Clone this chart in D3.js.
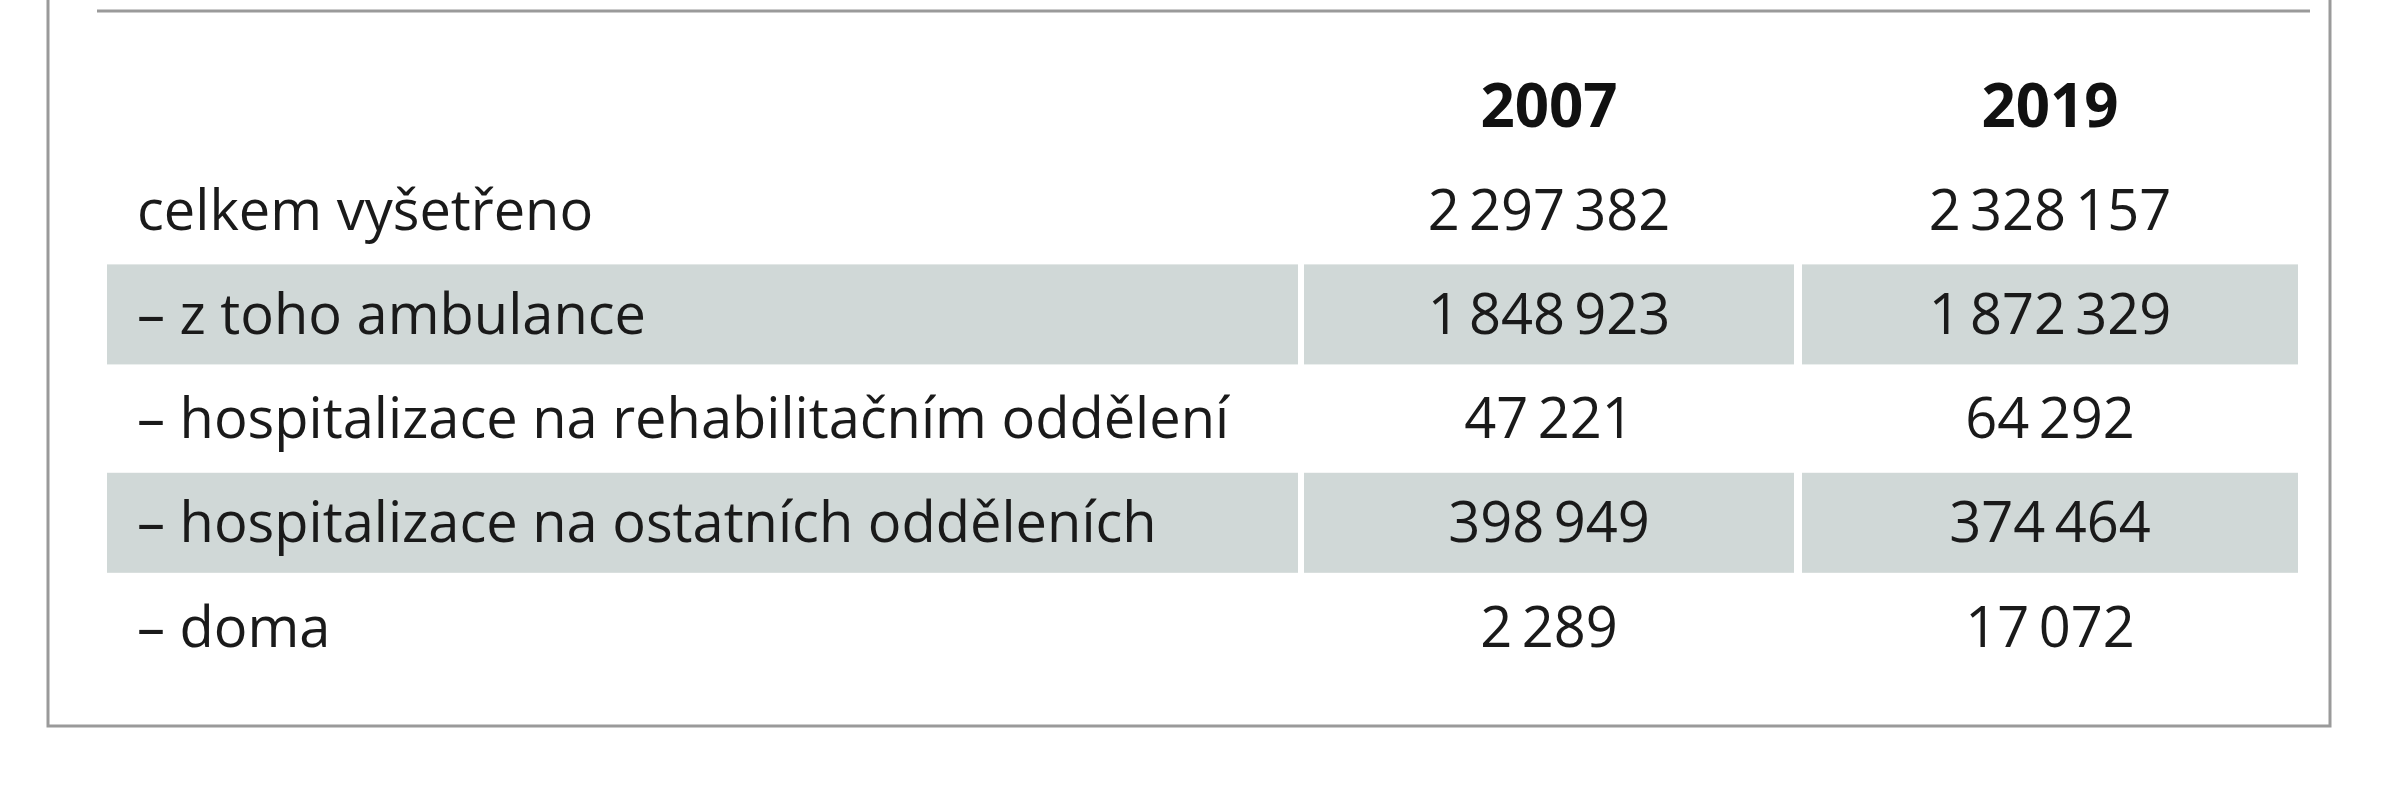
<!DOCTYPE html><html><head><meta charset="utf-8">
<script src="https://cdn.jsdelivr.net/npm/d3@7"></script>
<style>body{margin:0;background:#fff}</style></head><body>
<svg id="c" width="2394" height="800"></svg>
<script>
const years = ["2007", "2019"];
const rowLabels = ["celkem vyšetřeno", "– z toho ambulance", "– hospitalizace na rehabilitačním oddělení", "– hospitalizace na ostatních odděleních", "– doma"];
const values2007 = [2297382, 1848923, 47221, 398949, 2289];
const values2019 = [2328157, 1872329, 64292, 374464, 17072];
const shaded = [false, true, false, true, false];

const svg = d3.select("#c");
const font = "'Open Sans', sans-serif";
svg.append("path").attr("d","M48,0 V726 H2330 V0").attr("fill","none").attr("stroke","#9a9a9a").attr("stroke-width",3);
svg.append("line").attr("x1",97).attr("x2",2310).attr("y1",11).attr("y2",11).attr("stroke","#9a9a9a").attr("stroke-width",3);

const y = d3.scaleBand().domain(["h"].concat(d3.range(rowLabels.length))).range([56, 677]).paddingInner(0.04);
const cols = [{x0:107,x1:1298},{x0:1304,x1:1794},{x0:1802,x1:2298}];
const fmt = v => d3.format(",")(v).replace(/,/g, "\u2009");
const series = [values2007, values2019];

rowLabels.forEach((lab,i)=>{
  const yy = y(i), h = y.bandwidth();
  if (shaded[i]) cols.forEach(c=>svg.append("rect").attr("x",c.x0).attr("y",yy).attr("width",c.x1-c.x0).attr("height",h).attr("fill","#d0d8d7"));
  svg.append("text").attr("x",137).attr("y",yy+h/2).attr("dy","0.35em").attr("font-family",font).attr("font-size",56).attr("fill","#1a1a1a").text(lab);
  series.forEach((s,j)=>{
    const c = cols[j+1];
    svg.append("text").attr("x",(c.x0+c.x1)/2).attr("y",yy+h/2).attr("dy","0.35em").attr("text-anchor","middle")
      .attr("font-family",font).attr("font-size",56).attr("fill","#1a1a1a").text(fmt(s[i]));
  });
});
years.forEach((yr,j)=>{
  const c = cols[j+1];
  svg.append("text").attr("x",(c.x0+c.x1)/2).attr("y",y("h")+y.bandwidth()/2).attr("dy","0.35em").attr("text-anchor","middle")
    .attr("font-family",font).attr("font-weight","bold").attr("font-size",60).attr("fill","#111").text(yr);
});
</script></body></html>
